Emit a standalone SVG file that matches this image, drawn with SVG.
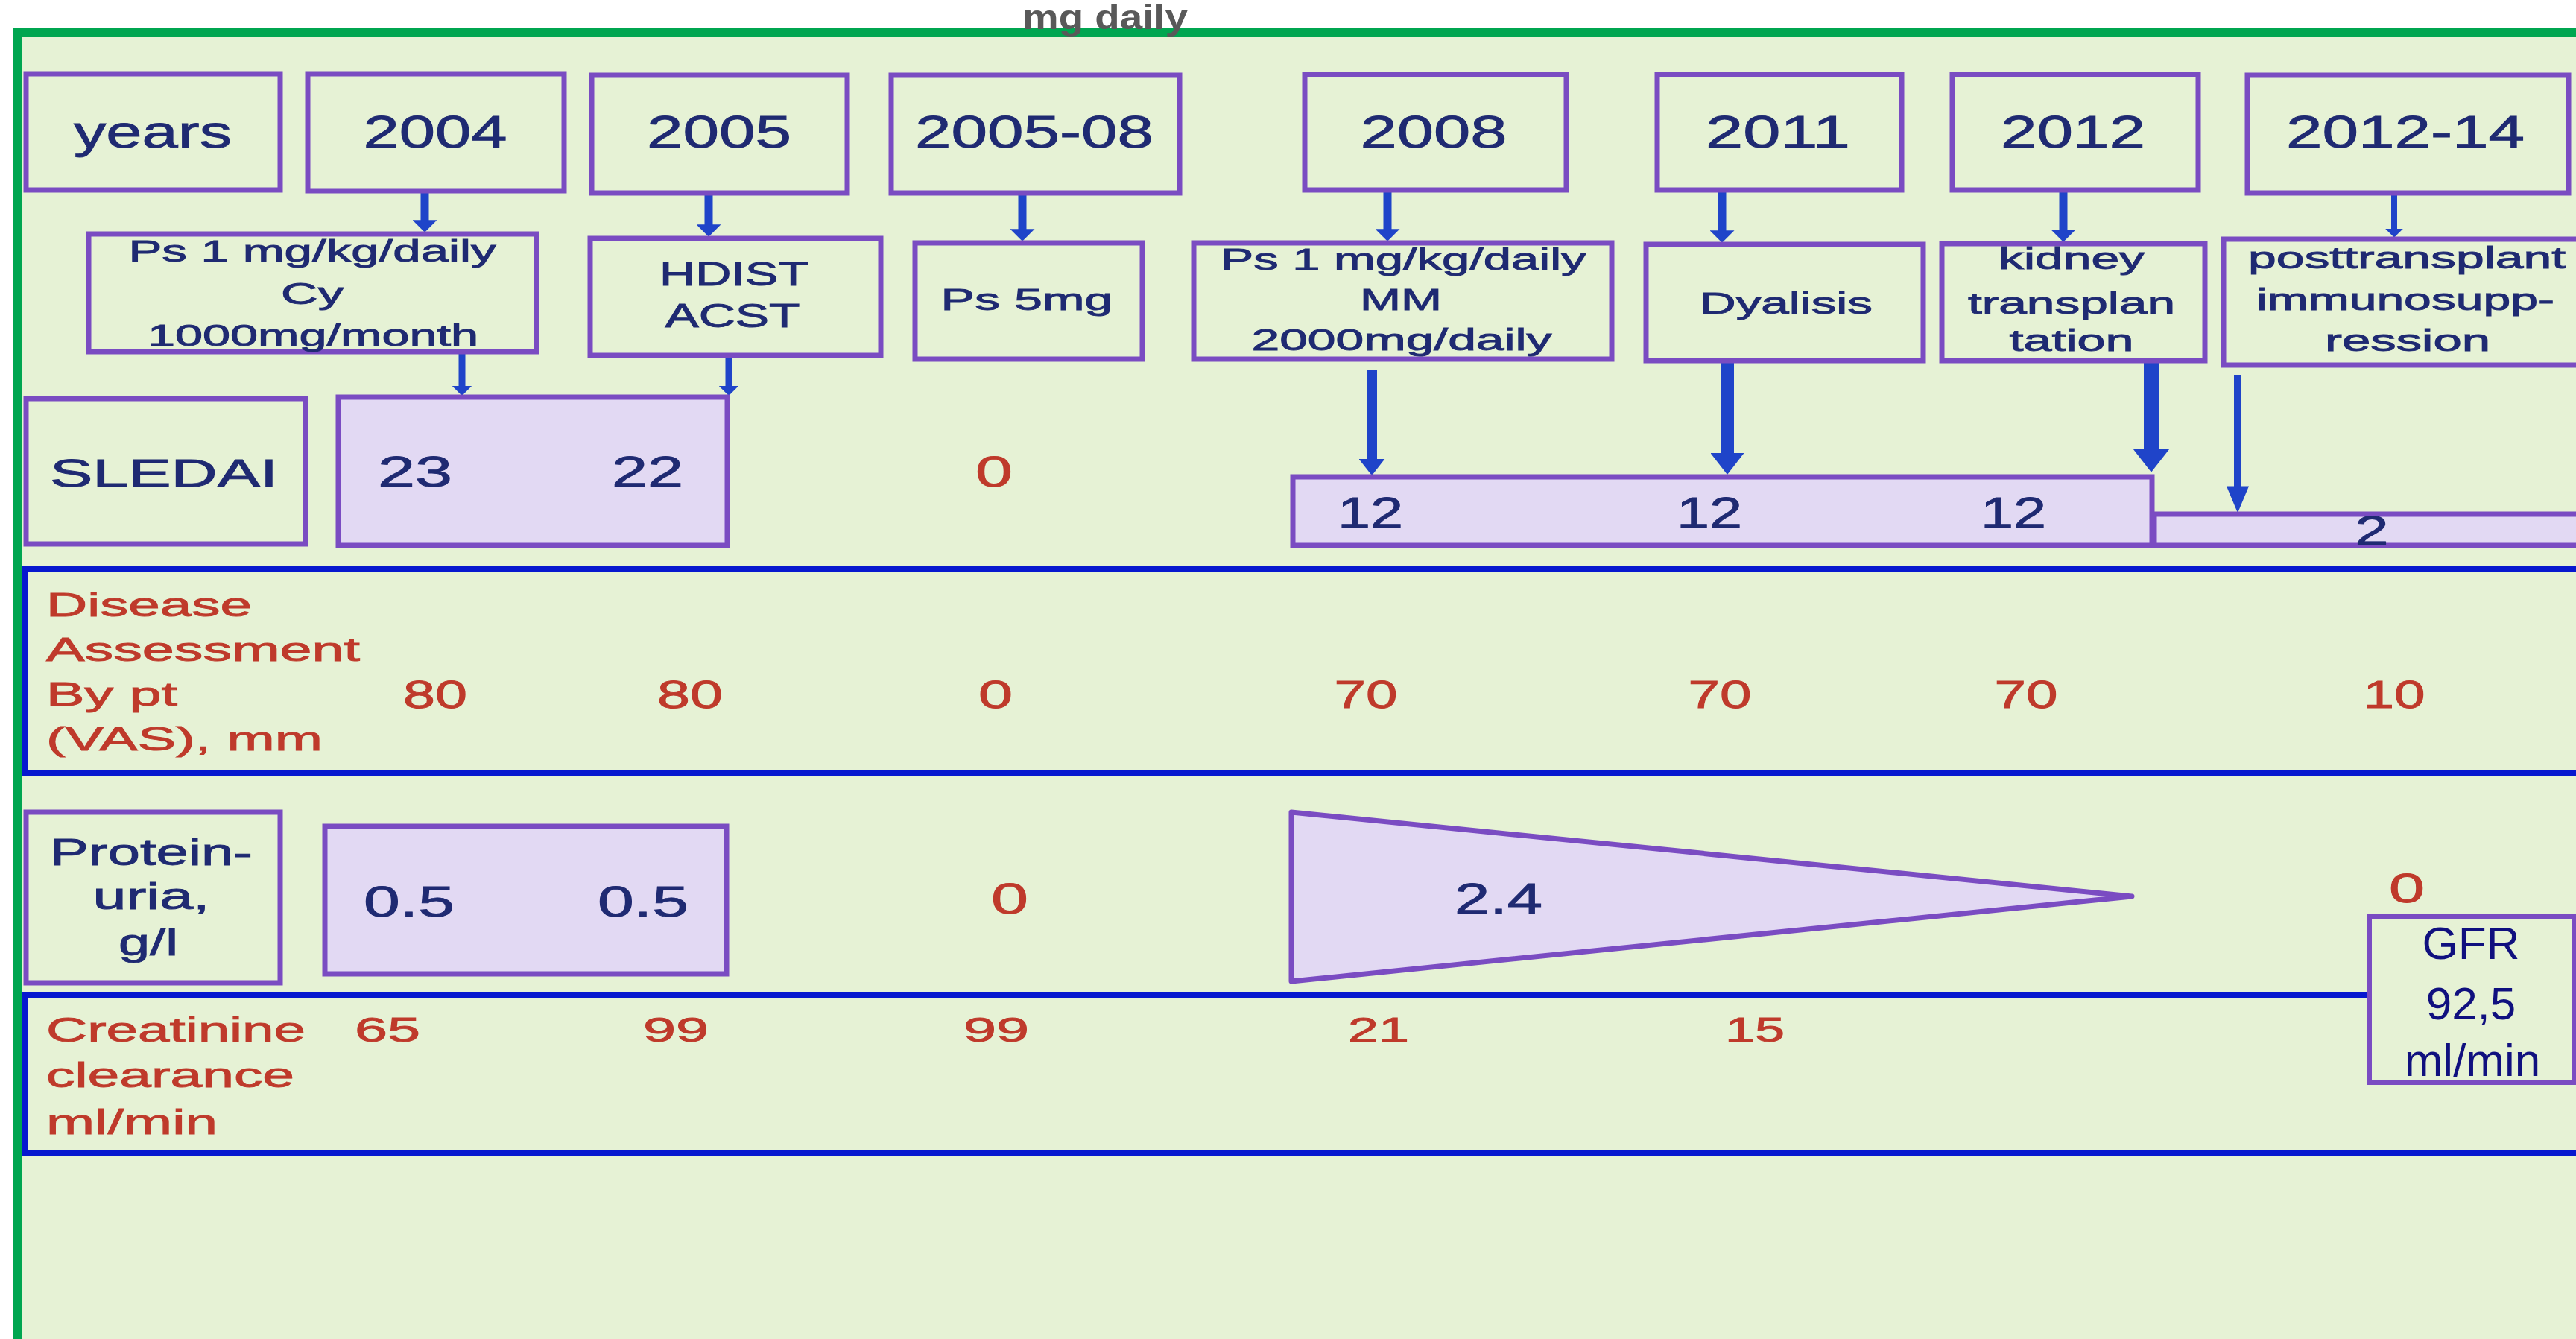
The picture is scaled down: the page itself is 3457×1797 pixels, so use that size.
<svg xmlns="http://www.w3.org/2000/svg" width="3457" height="1797" viewBox="0 0 3457 1797">
<defs>
<style>
.box{fill:none;stroke:#7A4CC2;stroke-width:7}
.lav{fill:#E2D9F3;stroke:#7A4CC2;stroke-width:7}
.band{fill:none;stroke:#0718CF;stroke-width:8}
.t{font-family:"Liberation Sans",Arial,sans-serif;fill:#1F2A72;stroke:#1F2A72;stroke-width:0.9;text-anchor:middle}
.l{text-anchor:start}
.r{fill:#BF3A2B;stroke:#BF3A2B}
.g{fill:#10107F;stroke:none}
.c{stroke:#1F44C9;fill:none}
</style>
<marker id="ahs" viewBox="0 0 10 10" preserveAspectRatio="none" markerUnits="strokeWidth" markerWidth="1.5" markerHeight="3" refX="1" refY="5" orient="auto"><path d="M0,0 L10,5 L0,10 Z" fill="#1F44C9"/></marker>
<marker id="ahb" viewBox="0 0 10 10" preserveAspectRatio="none" markerUnits="strokeWidth" markerWidth="1.6" markerHeight="2.5" refX="1" refY="5" orient="auto"><path d="M0,0 L10,5 L0,10 Z" fill="#1F44C9"/></marker>
<marker id="aht" viewBox="0 0 10 10" preserveAspectRatio="none" markerUnits="strokeWidth" markerWidth="3.6" markerHeight="3" refX="1" refY="5" orient="auto"><path d="M0,0 L10,5 L0,10 Z" fill="#1F44C9"/></marker>
</defs>
<rect x="0" y="0" width="3457" height="1797" fill="#FFFFFF"/>
<rect x="24" y="43" width="3500" height="1800" fill="#E6F2D5" stroke="#00A650" stroke-width="12"/>

<g id="bands">
<rect class="band" x="33" y="764" width="3480" height="274"/>
<rect class="band" x="33" y="1335" width="3480" height="212"/>
</g>

<g id="connectors">
<line class="c" x1="570" y1="258" x2="570" y2="297" stroke-width="11" marker-end="url(#ahs)"/>
<line class="c" x1="951" y1="262" x2="951" y2="303" stroke-width="11" marker-end="url(#ahs)"/>
<line class="c" x1="1372" y1="262" x2="1372" y2="309" stroke-width="11" marker-end="url(#ahs)"/>
<line class="c" x1="1862" y1="258" x2="1862" y2="309" stroke-width="11" marker-end="url(#ahs)"/>
<line class="c" x1="2311" y1="258" x2="2311" y2="311" stroke-width="11" marker-end="url(#ahs)"/>
<line class="c" x1="2769" y1="258" x2="2769" y2="310" stroke-width="11" marker-end="url(#ahs)"/>
<line class="c" x1="3213" y1="262" x2="3213" y2="308" stroke-width="8" marker-end="url(#ahs)"/>
<line class="c" x1="620" y1="475" x2="620" y2="519" stroke-width="9" marker-end="url(#ahs)"/>
<line class="c" x1="978" y1="480" x2="978" y2="519" stroke-width="9" marker-end="url(#ahs)"/>
<line class="c" x1="1841" y1="497" x2="1841" y2="618" stroke-width="14" marker-end="url(#ahb)"/>
<line class="c" x1="2318" y1="487" x2="2318" y2="611" stroke-width="18" marker-end="url(#ahb)"/>
<line class="c" x1="2887" y1="487" x2="2887" y2="605" stroke-width="20" marker-end="url(#ahb)"/>
<line class="c" x1="3003" y1="503" x2="3003" y2="656" stroke-width="10" marker-end="url(#aht)"/>
</g>

<g id="n-years"><rect class="box" x="35" y="99" width="341" height="156"/><text class="t" x="205" y="198" font-size="62" textLength="212" lengthAdjust="spacingAndGlyphs">years</text></g>
<g id="n-2004"><rect class="box" x="413" y="99" width="344" height="157"/><text class="t" x="584" y="198" font-size="62" textLength="193" lengthAdjust="spacingAndGlyphs">2004</text></g>
<g id="n-2005"><rect class="box" x="794" y="101" width="343" height="158"/><text class="t" x="965" y="198" font-size="62" textLength="194" lengthAdjust="spacingAndGlyphs">2005</text></g>
<g id="n-2005-08"><rect class="box" x="1196" y="101" width="387" height="158"/><text class="t" x="1388" y="198" font-size="62" textLength="320" lengthAdjust="spacingAndGlyphs">2005-08</text></g>
<g id="n-2008"><rect class="box" x="1751" y="100" width="351" height="155"/><text class="t" x="1924" y="198" font-size="62" textLength="197" lengthAdjust="spacingAndGlyphs">2008</text></g>
<g id="n-2011"><rect class="box" x="2224" y="100" width="328" height="155"/><text class="t" x="2386" y="198" font-size="62" textLength="194" lengthAdjust="spacingAndGlyphs">2011</text></g>
<g id="n-2012"><rect class="box" x="2620" y="100" width="330" height="155"/><text class="t" x="2782" y="198" font-size="62" textLength="194" lengthAdjust="spacingAndGlyphs">2012</text></g>
<g id="n-2012-14"><rect class="box" x="3016" y="101" width="431" height="158"/><text class="t" x="3228" y="198" font-size="62" textLength="320" lengthAdjust="spacingAndGlyphs">2012-14</text></g>

<g id="n-ps1">
<rect class="box" x="119" y="314" width="601" height="158"/>
<text class="t" x="419" y="351" font-size="40" textLength="493" lengthAdjust="spacingAndGlyphs">Ps 1 mg/kg/daily</text>
<text class="t" x="419" y="408" font-size="40" textLength="84" lengthAdjust="spacingAndGlyphs">Cy</text>
<text class="t" x="420" y="464" font-size="40" textLength="444" lengthAdjust="spacingAndGlyphs">1000mg/month</text>
</g>
<g id="n-hdist">
<rect class="box" x="792" y="320" width="390" height="157"/>
<text class="t" x="985" y="383" font-size="44" textLength="200" lengthAdjust="spacingAndGlyphs">HDIST</text>
<text class="t" x="983" y="439" font-size="44" textLength="181" lengthAdjust="spacingAndGlyphs">ACST</text>
</g>
<g id="n-ps5">
<rect class="box" x="1228" y="326" width="305" height="156"/>
<text class="t" x="1378" y="416" font-size="40" textLength="231" lengthAdjust="spacingAndGlyphs">Ps 5mg</text>
</g>
<g id="n-mm">
<rect class="box" x="1602" y="326" width="561" height="156"/>
<text class="t" x="1883" y="362" font-size="40" textLength="491" lengthAdjust="spacingAndGlyphs">Ps 1 mg/kg/daily</text>
<text class="t" x="1880" y="416" font-size="40" textLength="110" lengthAdjust="spacingAndGlyphs">MM</text>
<text class="t" x="1881" y="470" font-size="40" textLength="403" lengthAdjust="spacingAndGlyphs">2000mg/daily</text>
</g>
<g id="n-dyalisis">
<rect class="box" x="2209" y="328" width="372" height="156"/>
<text class="t" x="2397" y="421" font-size="40" textLength="232" lengthAdjust="spacingAndGlyphs">Dyalisis</text>
</g>
<g id="n-kidney">
<rect class="box" x="2606" y="327" width="353" height="157"/>
<text class="t" x="2780" y="361" font-size="40" textLength="196" lengthAdjust="spacingAndGlyphs">kidney</text>
<text class="t" x="2780" y="421" font-size="40" textLength="278" lengthAdjust="spacingAndGlyphs">transplan</text>
<text class="t" x="2780" y="471" font-size="40" textLength="167" lengthAdjust="spacingAndGlyphs">tation</text>
</g>
<g id="n-post">
<rect class="box" x="2984" y="321" width="490" height="169"/>
<text class="t" x="3230" y="360" font-size="40" textLength="426" lengthAdjust="spacingAndGlyphs">posttransplant</text>
<text class="t" x="3228" y="416" font-size="40" textLength="400" lengthAdjust="spacingAndGlyphs">immunosupp-</text>
<text class="t" x="3231" y="471" font-size="40" textLength="222" lengthAdjust="spacingAndGlyphs">ression</text>
</g>

<g id="n-sledai">
<rect class="box" x="35" y="535" width="375" height="195"/>
<text class="t" x="220" y="653" font-size="52" textLength="306" lengthAdjust="spacingAndGlyphs">SLEDAI</text>
</g>
<g id="n-sledai-2004">
<rect class="lav" x="454" y="533" width="522" height="199"/>
<text class="t" x="557" y="653" font-size="58" textLength="100" lengthAdjust="spacingAndGlyphs">23</text>
<text class="t" x="869" y="653" font-size="58" textLength="96" lengthAdjust="spacingAndGlyphs">22</text>
</g>
<g id="n-sledai-0"><text class="t r" x="1334" y="653" font-size="58" textLength="50" lengthAdjust="spacingAndGlyphs">0</text></g>
<g id="n-sledai-12">
<rect class="lav" x="1735" y="640" width="1153" height="92"/>
<text class="t" x="1839" y="708" font-size="58" textLength="88" lengthAdjust="spacingAndGlyphs">12</text>
<text class="t" x="2294" y="708" font-size="58" textLength="88" lengthAdjust="spacingAndGlyphs">12</text>
<text class="t" x="2702" y="708" font-size="58" textLength="88" lengthAdjust="spacingAndGlyphs">12</text>
</g>
<g id="n-sledai-2">
<rect class="lav" x="2891" y="690" width="600" height="42"/>
<text class="t" x="3183" y="731" font-size="56" textLength="45" lengthAdjust="spacingAndGlyphs">2</text>
</g>

<g id="n-disease">
<text class="t l r" x="62" y="827" font-size="45" textLength="276" lengthAdjust="spacingAndGlyphs">Disease</text>
<text class="t l r" x="62" y="887" font-size="45" textLength="421" lengthAdjust="spacingAndGlyphs">Assessment</text>
<text class="t l r" x="62" y="947" font-size="45" textLength="176" lengthAdjust="spacingAndGlyphs">By pt</text>
<text class="t l r" x="62" y="1007" font-size="45" textLength="371" lengthAdjust="spacingAndGlyphs">(VAS), mm</text>
<text class="t r" x="584" y="950" font-size="51" textLength="86" lengthAdjust="spacingAndGlyphs">80</text>
<text class="t r" x="926" y="950" font-size="51" textLength="88" lengthAdjust="spacingAndGlyphs">80</text>
<text class="t r" x="1336" y="950" font-size="51" textLength="46" lengthAdjust="spacingAndGlyphs">0</text>
<text class="t r" x="1833" y="950" font-size="51" textLength="85" lengthAdjust="spacingAndGlyphs">70</text>
<text class="t r" x="2308" y="950" font-size="51" textLength="85" lengthAdjust="spacingAndGlyphs">70</text>
<text class="t r" x="2719" y="950" font-size="51" textLength="85" lengthAdjust="spacingAndGlyphs">70</text>
<text class="t r" x="3213" y="950" font-size="51" textLength="83" lengthAdjust="spacingAndGlyphs">10</text>
</g>

<g id="n-protein">
<rect class="box" x="35" y="1090" width="341" height="229"/>
<text class="t" x="203" y="1161" font-size="50" textLength="272" lengthAdjust="spacingAndGlyphs">Protein-</text>
<text class="t" x="203" y="1220" font-size="50" textLength="157" lengthAdjust="spacingAndGlyphs">uria,</text>
<text class="t" x="199" y="1282" font-size="50" textLength="80" lengthAdjust="spacingAndGlyphs">g/l</text>
</g>
<g id="n-protein-2004">
<rect class="lav" x="436" y="1109" width="539" height="198"/>
<text class="t" x="549" y="1230" font-size="58" textLength="122" lengthAdjust="spacingAndGlyphs">0.5</text>
<text class="t" x="863" y="1230" font-size="58" textLength="122" lengthAdjust="spacingAndGlyphs">0.5</text>
</g>
<g id="n-protein-0"><text class="t r" x="1355" y="1226" font-size="58" textLength="50" lengthAdjust="spacingAndGlyphs">0</text></g>
<g id="n-protein-24">
<polygon points="1733,1090 2861,1203 1733,1317" fill="#E2D9F3" stroke="#7A4CC2" stroke-width="7" stroke-linejoin="round"/>
<text class="t" x="2011" y="1226" font-size="58" textLength="118" lengthAdjust="spacingAndGlyphs">2.4</text>
</g>
<g id="n-protein-0b"><text class="t r" x="3230" y="1211" font-size="56" textLength="48" lengthAdjust="spacingAndGlyphs">0</text></g>

<g id="n-creatinine">
<text class="t l r" x="62" y="1398" font-size="47" textLength="348" lengthAdjust="spacingAndGlyphs">Creatinine</text>
<text class="t l r" x="62" y="1459" font-size="47" textLength="333" lengthAdjust="spacingAndGlyphs">clearance</text>
<text class="t l r" x="62" y="1522" font-size="47" textLength="230" lengthAdjust="spacingAndGlyphs">ml/min</text>
<text class="t r" x="520" y="1398" font-size="47" textLength="88" lengthAdjust="spacingAndGlyphs">65</text>
<text class="t r" x="907" y="1398" font-size="47" textLength="88" lengthAdjust="spacingAndGlyphs">99</text>
<text class="t r" x="1337" y="1398" font-size="47" textLength="88" lengthAdjust="spacingAndGlyphs">99</text>
<text class="t r" x="1850" y="1398" font-size="47" textLength="82" lengthAdjust="spacingAndGlyphs">21</text>
<text class="t r" x="2355" y="1398" font-size="47" textLength="80" lengthAdjust="spacingAndGlyphs">15</text>
</g>

<g id="n-gfr">
<rect x="3180" y="1230" width="274" height="223" fill="#E6F2D5" stroke="#7A4CC2" stroke-width="6"/>
<text class="t g" x="3316" y="1287" font-size="62">GFR</text>
<text class="t g" x="3316" y="1368" font-size="62">92,5</text>
<text class="t g" x="3318" y="1444" font-size="62">ml/min</text>
</g>

<g id="n-mgdaily"><text x="1483" y="39" font-family="Liberation Sans,Arial,sans-serif" font-weight="bold" font-size="46" fill="#595959" text-anchor="middle" textLength="222" lengthAdjust="spacingAndGlyphs">mg daily</text></g>
</svg>
